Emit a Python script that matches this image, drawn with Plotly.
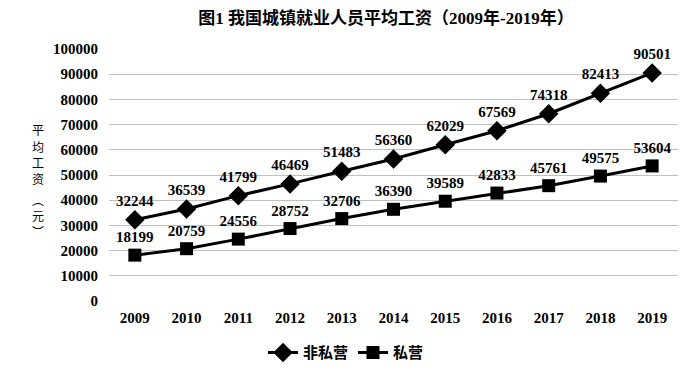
import plotly.graph_objects as go

years = ["2009", "2010", "2011", "2012", "2013", "2014", "2015", "2016", "2017", "2018", "2019"]
non_private = [32244, 36539, 41799, 46469, 51483, 56360, 62029, 67569, 74318, 82413, 90501]
private = [18199, 20759, 24556, 28752, 32706, 36390, 39589, 42833, 45761, 49575, 53604]
yticks = [0, 10000, 20000, 30000, 40000, 50000, 60000, 70000, 80000, 90000, 100000]
ytitle_chars = ["平", "均", "工", "资", "︵", "元", "︶"]

FONT = "Liberation Serif, DejaVu Serif, Noto Sans CJK SC, serif"
NUMFONT = dict(family=FONT, size=15, color="#000000", weight="bold")

L, R, T, B = 101, 30, 41, 96
PW = 700 - L - R
PH = 389 - T - B

fig = go.Figure()
fig.add_trace(go.Scatter(
    x=years, y=non_private, name="非私营", mode="lines+markers+text",
    line=dict(color="#000000", width=3),
    marker=dict(symbol="diamond", size=15, color="#000000"),
    text=[str(v) for v in non_private], textposition="top center",
    textfont=NUMFONT,
))
fig.add_trace(go.Scatter(
    x=years, y=private, name="私营", mode="lines+markers+text",
    line=dict(color="#000000", width=3),
    marker=dict(symbol="square", size=13, color="#000000"),
    text=[str(v) for v in private], textposition="top center",
    textfont=NUMFONT,
))

fig.update_layout(
    width=700, height=389,
    margin=dict(l=L, r=R, t=T, b=B),
    paper_bgcolor="white", plot_bgcolor="white",
    title=dict(text="<b>图1 我国城镇就业人员平均工资（2009年-2019年）</b>",
               x=378 / 700, xanchor="center", y=0.975, yanchor="middle",
               font=dict(family=FONT, size=17, color="#000000")),
    font=dict(family=FONT, size=15, color="#000000"),
    showlegend=True,
    legend=dict(orientation="h", x=(338 - L) / PW, xanchor="center", y=-0.14, yanchor="top",
                font=dict(family=FONT, size=15, color="#000000", weight="bold"),
                itemwidth=30),
    xaxis=dict(type="category", range=[-0.5, 10.5], showgrid=False, zeroline=False,
               showline=False, ticks="", ticklabelstandoff=6, tickfont=NUMFONT),
    yaxis=dict(range=[0, 100000], tickvals=yticks, ticktext=[str(v) for v in yticks],
               showgrid=True, gridcolor="#bfbfbf", gridwidth=1, zeroline=False,
               showline=False, ticks="", ticklabelstandoff=10, tickfont=NUMFONT),
)

centers = [122, 138, 154, 170, 191, 207, 223]
for ch, yc in zip(ytitle_chars, centers):
    fig.add_annotation(text=ch, xref="paper", yref="paper",
                       x=(30 - L) / PW, y=(389 - B - yc) / PH,
                       xanchor="center", yanchor="middle", showarrow=False,
                       font=dict(family="Noto Sans CJK SC", size=12, color="#000000"))

fig.write_html("out.html")
